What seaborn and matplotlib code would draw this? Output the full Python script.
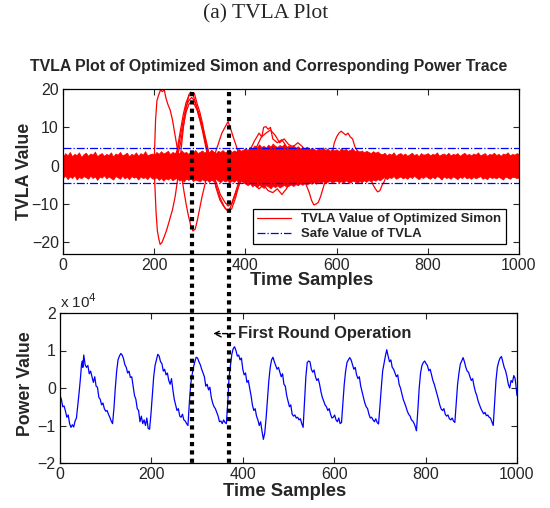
import matplotlib
matplotlib.use("Agg")
import matplotlib.pyplot as plt
import matplotlib.transforms as mtransforms
from matplotlib.lines import Line2D
import numpy as np
import pandas as pd
import seaborn as sns

# ---- data ----
# noise band of all TVLA traces, every 5 samples
band_x = list(range(0, 1001, 5))
band_hi = [2.4, 3.3, 2.7, 3.6, 2.5, 3.1, 2.8, 3.5, 2.3, 3.0,
           3.4, 2.6, 3.2, 2.9, 3.7, 2.5, 3.0, 3.3, 2.6, 3.1,
           2.8, 3.5, 2.4, 3.2, 2.9, 3.6, 2.7, 3.0, 3.4, 2.5,
           3.1, 2.8, 3.5, 2.6, 3.3, 2.9, 3.8, 2.7, 3.0, 3.2,
           2.9, 3.6, 3.1, 3.8, 3.2, 3.5, 3.9, 3.0, 3.6, 3.3,
           3.7, 3.2, 4.0, 3.4, 3.6, 3.1, 3.8, 3.5, 4.1, 3.3,
           3.6, 4.0, 3.4, 3.9, 3.5, 4.2, 3.7, 3.3, 3.9, 3.6,
           4.1, 3.5, 3.8, 4.3, 3.6, 4.0, 3.7, 4.4, 3.9, 4.2,
           4.6, 4.1, 5.0, 4.5, 5.3, 4.8, 5.6, 4.9, 5.2, 4.7,
           5.5, 5.0, 5.8, 5.2, 4.9, 5.4, 5.1, 5.7, 4.8, 5.3,
           5.0, 5.4, 4.7, 5.1, 4.5, 4.9, 4.6, 5.0, 4.3, 4.7,
           4.4, 4.0, 4.6, 4.2, 4.8, 4.1, 4.5, 3.9, 4.4, 4.0,
           4.3, 3.8, 4.6, 4.1, 4.4, 3.9, 4.2, 4.5, 3.8, 4.1,
           3.7, 4.0, 3.5, 3.9, 3.6, 3.3, 3.8, 3.4, 3.7, 3.2,
           3.0, 3.4, 2.7, 3.2, 2.9, 3.5, 2.6, 3.1, 3.3, 2.8,
           3.2, 2.6, 3.0, 3.4, 2.8, 3.1, 2.5, 3.3, 2.9, 3.0,
           3.3, 2.7, 3.1, 2.9, 3.5, 2.6, 3.0, 3.2, 2.8, 3.4,
           2.7, 3.1, 2.9, 3.3, 2.6, 3.0, 3.4, 2.8, 3.1, 2.7,
           3.2, 2.9, 3.5, 2.7, 3.0, 3.3, 2.6, 3.1, 2.9, 3.4,
           2.8, 3.1, 2.6, 3.2, 3.0, 3.5, 2.7, 3.1, 2.9, 3.3,
           3.0]
band_lo = [-3.1, -2.6, -3.5, -2.8, -3.2, -2.5, -3.6, -2.9, -3.3, -2.7,
           -3.0, -3.4, -2.6, -3.2, -2.8, -3.7, -2.9, -3.1, -2.5, -3.3,
           -2.8, -3.2, -3.6, -2.7, -3.0, -3.4, -2.6, -3.3, -2.9, -3.5,
           -2.7, -3.1, -2.9, -3.6, -2.8, -3.2, -3.0, -3.5, -2.7, -3.3,
           -3.4, -3.0, -3.7, -3.2, -3.9, -3.3, -3.6, -3.1, -3.8, -3.4,
           -3.2, -3.9, -3.5, -4.1, -3.4, -3.7, -3.3, -4.0, -3.6, -3.8,
           -4.1, -3.5, -3.9, -3.6, -4.2, -3.7, -4.0, -3.4, -3.9, -4.3,
           -3.7, -4.1, -3.8, -4.4, -3.9, -4.2, -3.6, -4.5, -4.0, -4.3,
           -4.7, -5.1, -4.6, -5.4, -4.9, -5.6, -5.0, -5.3, -5.8, -5.1,
           -5.4, -5.9, -5.2, -5.6, -5.1, -5.7, -5.3, -5.0, -5.5, -5.2,
           -4.9, -5.3, -4.8, -5.1, -4.6, -5.0, -4.5, -4.9, -4.4, -4.7,
           -4.3, -4.7, -4.1, -4.5, -4.0, -4.6, -4.2, -3.9, -4.4, -4.1,
           -3.9, -4.3, -4.0, -4.5, -3.8, -4.2, -4.4, -3.9, -4.1, -4.6,
           -4.0, -4.3, -3.8, -4.2, -3.7, -4.1, -3.6, -3.9, -3.5, -3.8,
           -3.3, -2.9, -3.5, -3.0, -3.2, -2.7, -3.4, -3.1, -2.8, -3.3,
           -3.0, -3.4, -2.8, -3.2, -2.6, -3.1, -3.5, -2.9, -3.2, -2.7,
           -3.1, -3.4, -2.9, -3.3, -2.7, -3.0, -3.6, -2.8, -3.2, -3.0,
           -3.4, -2.8, -3.1, -3.5, -2.9, -3.2, -2.7, -3.3, -3.0, -3.4,
           -2.9, -3.3, -3.0, -2.7, -3.4, -3.1, -3.5, -2.8, -3.2, -3.0,
           -3.3, -2.9, -3.2, -3.6, -2.8, -3.1, -3.4, -2.9, -3.0, -3.2,
           -3.1]

# large excursions of individual TVLA traces
trace_a_x = [195, 200, 203, 206, 210, 214, 218, 222, 226, 230, 235, 240, 245, 250, 255,
             260, 265, 270, 275, 280, 285, 290, 295, 300, 305, 310, 315, 320, 325,
             330, 340, 348, 355, 362, 368, 373, 379, 385, 390, 396]
trace_a_y = [0, 1, 12, 17, 18.5, 19.8, 19.3, 19.8, 17.5, 16, 14.5, 12, 8.5, 5, 1.5,
             -2.5, -6.5, -10, -13, -15.5, -17, -16.5, -14, -11, -8, -5.5, -3, -1, 0,
             2, 5.5, 8.4, 10, 11.5, 9.5, 7.6, 5.5, 3.2, 1.5, 0]
trace_b_x = [195, 200, 204, 207, 210, 213, 217, 222, 228, 234, 240, 246, 252, 258, 264,
             270, 276, 280, 284, 288, 293, 298, 303, 308, 313, 318, 323, 328,
             335, 344, 352, 359, 363, 370, 377, 383, 388, 394, 400]
trace_b_y = [0, -1, -12, -17, -19, -20.5, -20, -18.5, -16.5, -14, -11.5, -8, -3, 3, 10,
             15, 18.5, 19.2, 18.8, 17.5, 15.4, 13, 11, 9.3, 7, 4.4, 1.5, 0,
             -5.5, -8.9, -10.5, -11.5, -12, -10, -7.8, -6, -4.4, -2.4, -1]
hump2_x = [240, 250, 258, 264, 270, 276, 282, 288, 294, 300, 306, 312, 318, 324]
hump2_y1 = [0, 3, 8, 12, 15.5, 17, 17.8, 17, 15, 13, 10, 6.5, 3, 0]
hump2_y2 = [0, 4, 9.5, 13.5, 16.5, 18.2, 18.5, 18.9, 16.2, 14, 11, 7, 3.5, 0]
hump2_y3 = [0, 2, 6, 10.5, 14, 16, 16.8, 16, 14.5, 12, 9, 5.5, 2, 0]
hump3_x = [325, 335, 345, 355, 362, 370, 378, 386, 395]
hump3_y1 = [-1, -4, -7.5, -9.5, -10.5, -9.8, -7, -4, -1]
hump3_y2 = [-1, -5, -8.5, -11, -11.8, -11.2, -8.5, -5, -1.5]
bunch_a_x = [400, 410, 420, 430, 436, 440, 445, 450, 455, 460, 470, 480, 490, 500, 510]
bunch_a_y = [2, 4, 6.5, 8.5, 7.5, 10, 10.2, 9.5, 10, 7, 6, 6.8, 5, 4, 2]
bunch_b_x = [405, 415, 425, 435, 445, 455, 465, 475, 485, 495, 505, 515, 525, 535, 545]
bunch_b_y = [1, 3, 5, 7.5, 8.5, 9.3, 8, 6, 7, 5.5, 5, 6, 5, 3, 1]
bunch_c_x = [400, 410, 420, 430, 440, 450, 460, 470, 480, 490, 500, 510]
bunch_c_y = [-2, -4, -5, -6, -5, -6.5, -7, -6, -7.5, -6, -4, -2]
hump5_x = [520, 530, 540, 545, 550, 555, 560, 565, 570, 575, 580]
hump5_y = [-2, -4, -7, -9, -10.2, -10, -9.5, -8, -6, -4, -2]
hump6_x = [580, 590, 595, 600, 605, 610, 615, 620, 625, 630, 635, 640, 645, 650, 655]
hump6_y = [1, 3, 6, 7.5, 8.5, 9, 8.5, 8, 8.5, 7.5, 7, 5, 4, 2, 1]
hump7_x = [665, 675, 680, 685, 690, 695, 700, 705, 710]
hump7_y = [-2, -3.5, -5, -6, -6.8, -6.5, -5, -4, -2]
safe_value = 4.5

# power trace (units of 1e4)
power_x = [0, 3, 6, 9, 12, 15, 18, 21, 24, 27, 30, 33, 36, 39, 42, 45, 47, 49, 50, 52,
           55, 58, 61, 64, 67, 70, 73, 76, 79, 82, 85, 88, 91, 94, 97, 100, 103, 106, 109, 112, 115,
           118, 121, 124, 127, 130, 133, 136, 139, 142, 145, 148, 151, 154, 157, 160, 163, 166,
           169, 172, 175, 178, 181, 184, 187, 190, 193, 196,
           199, 202, 205, 208, 211, 214, 217, 220, 223, 226, 229, 232, 235, 238, 241, 244, 247,
           250, 253, 256, 259, 262, 265, 268, 271, 274, 277, 280,
           283, 286, 289, 292, 295, 298, 301, 304, 307, 310, 313, 316, 319, 322, 325, 328, 331,
           334, 337, 340, 343, 346, 349, 352, 355, 358, 361, 364,
           367, 370, 373, 376, 379, 382, 385, 388, 391, 394, 397, 400, 403, 406, 409, 412, 415,
           418, 421, 424, 427, 430, 433, 436, 439, 442, 445, 448,
           451, 454, 457, 460, 463, 466, 469, 472, 475, 478, 481, 484, 487, 490, 493, 496, 499,
           502, 505, 508, 511, 514, 517, 520, 523, 526, 529, 532,
           535, 538, 541, 544, 547, 550, 553, 556, 559, 562, 565, 568, 571, 574, 577, 580, 583,
           586, 589, 592, 595, 598, 601, 604, 607, 610, 613, 616,
           619, 622, 625, 628, 631, 634, 637, 640, 643, 646, 649, 652, 655, 658, 661, 664, 667,
           670, 673, 676, 679, 682, 685, 688, 691, 694, 697,
           700, 703, 706, 709, 712, 715, 718, 721, 724, 727, 730, 733, 736, 739, 742, 745, 748,
           751, 754, 757, 760, 763, 766, 769, 772, 775, 778, 780,
           783, 786, 789, 792, 795, 798, 801, 804, 807, 810, 813, 816, 819, 822, 825, 828, 831,
           834, 837, 840, 843, 846, 849, 852, 855, 858, 861, 864,
           867, 870, 873, 876, 879, 882, 885, 888, 891, 894, 897, 900, 903, 906, 909, 912, 915,
           918, 921, 924, 927, 930, 933, 936, 939, 942, 945, 948,
           951, 954, 957, 960, 963, 966, 969, 972, 975, 978, 981, 984, 987, 990, 993, 996, 999, 1000]
power_y = [-0.20, -0.30, -0.50, -0.48, -0.62, -0.78, -0.72, -0.95, -1.05, -0.98, -1.04, -0.88,
           -0.80, -0.45, -0.10, 0.30, 0.62, 0.72, 0.55, 0.88,
           0.62, 0.55, 0.60, 0.38, 0.45, 0.30, 0.15, 0.30, 0.05, 0.02, -0.25, -0.30, -0.45, -0.40,
           -0.55, -0.62, -0.60, -0.70, -0.78, -0.88, -0.95,
           -0.55, 0.00, 0.45, 0.75, 0.85, 0.92, 0.88, 0.78, 0.62, 0.55, 0.40, 0.45, 0.28, 0.30,
           0.05, -0.20, -0.30, -0.55, -0.60, -0.90, -0.75, -0.95, -0.85, -1.00, -0.80, -1.08, -1.10,
           -0.70, -0.20, 0.30, 0.60, 0.75, 0.90, 0.85, 0.70, 0.65, 0.45, 0.50, 0.35, 0.40, 0.20,
           0.10, 0.25, -0.05, -0.30, -0.45, -0.60, -0.55, -0.75, -0.78, -0.70, -0.85, -0.88,
           -0.95, -1.00,
           -0.40, 0.10, 0.35, 0.55, 0.70, 0.82, 0.80, 0.70, 0.62, 0.50, 0.40, 0.30, 0.05, 0.10,
           -0.05, 0.02, -0.25, -0.40, -0.50, -0.55, -0.65, -0.75, -0.90, -0.88, -0.95, -0.85,
           -0.92, -0.95,
           -0.40, 0.30, 0.60, 0.90, 1.05, 1.10, 1.00, 0.85, 0.88, 0.75, 0.80, 0.50, 0.35, 0.40,
           0.15, 0.20, 0.00, -0.20, -0.45, -0.60, -0.55, -0.75, -0.85, -1.00, -0.90, -1.15,
           -1.37, -1.20,
           -0.80, -0.30, 0.20, 0.55, 0.75, 0.82, 0.70, 0.60, 0.50, 0.55, 0.42, 0.30, 0.38, 0.10,
           0.05, -0.20, -0.35, -0.50, -0.45, -0.70, -0.75, -0.72, -0.80, -0.78, -0.85, -0.82,
           -0.95, -1.05,
           -0.40, 0.30, 0.68, 0.72, 0.70, 0.50, 0.42, 0.48, 0.30, 0.20, 0.25, 0.10, -0.10, -0.25,
           -0.35, -0.45, -0.50, -0.60, -0.55, -0.70, -0.80, -0.78, -0.72, -0.85, -0.90, -0.80,
           -0.95, -0.92,
           -0.40, 0.10, 0.45, 0.68, 0.75, 0.81, 0.75, 0.62, 0.50, 0.55, 0.35, 0.25, 0.30, 0.05,
           -0.10, -0.25, -0.40, -0.50, -0.55, -0.70, -0.80, -0.78, -0.85, -0.90, -0.82, -0.92, -0.96,
           -0.50, 0.00, 0.45, 0.65, 0.85, 1.02, 0.85, 0.70, 0.75, 0.55, 0.50, 0.40, 0.30, 0.35,
           0.10, 0.00, -0.15, -0.30, -0.40, -0.50, -0.62, -0.70, -0.75, -0.85, -0.88, -0.95,
           -1.05, -1.14,
           -0.60, 0.00, 0.40, 0.60, 0.68, 0.72, 0.65, 0.60, 0.46, 0.50, 0.35, 0.20, 0.10, -0.03,
           -0.15, -0.30, -0.45, -0.56, -0.60, -0.55, -0.70, -0.75, -0.72, -0.82, -0.85, -0.80,
           -0.88, -0.92,
           -0.40, 0.10, 0.40, 0.64, 0.72, 0.81, 0.70, 0.55, 0.45, 0.42, 0.30, 0.20, 0.25, 0.05,
           -0.10, -0.20, -0.35, -0.45, -0.55, -0.62, -0.69, -0.65, -0.74, -0.72, -0.78, -0.80,
           -0.90, -1.00,
           -0.40, 0.20, 0.55, 0.70, 0.80, 0.84, 0.70, 0.55, 0.46, 0.30, 0.10, 0.00, 0.20, 0.15,
           0.33, 0.25, -0.10, -0.20]

round_start = 283
round_end = 365

# ---- style ----
sns.set_style("ticks")
plt.rcParams["font.family"] = ["Liberation Sans", "DejaVu Sans"]
plt.rcParams["axes.linewidth"] = 0.9

red = "#ff0000"
blue = "#0000ff"

fig = plt.figure(figsize=(5.5, 5.08), dpi=100)
ax1 = fig.add_axes([63 / 550, 1 - 254 / 508, 456 / 550, 165 / 508])
ax2 = fig.add_axes([60 / 550, 1 - 463 / 508, 457 / 550, 150 / 508])

# ---- top: TVLA ----
ax1.fill_between(band_x, band_lo, band_hi, color=red, lw=0.5, edgecolor=red)
sns.lineplot(x=trace_a_x, y=trace_a_y, ax=ax1, color=red, lw=0.9, sort=False,
             estimator=None, label="TVLA Value of Optimized Simon")
sns.lineplot(x=trace_b_x, y=trace_b_y, ax=ax1, color=red, lw=0.9, sort=False, estimator=None)
for ys in [hump2_y1, hump2_y2, hump2_y3]:
    sns.lineplot(x=hump2_x, y=ys, ax=ax1, color=red, lw=0.9, sort=False, estimator=None)
for ys in [hump3_y1, hump3_y2]:
    sns.lineplot(x=hump3_x, y=ys, ax=ax1, color=red, lw=0.9, sort=False, estimator=None)
for xs, ys in [(bunch_a_x, bunch_a_y), (bunch_b_x, bunch_b_y), (bunch_c_x, bunch_c_y),
               (hump5_x, hump5_y), (hump6_x, hump6_y), (hump7_x, hump7_y)]:
    sns.lineplot(x=xs, y=ys, ax=ax1, color=red, lw=0.9, sort=False, estimator=None)

ax1.axhline(safe_value, color=blue, lw=0.9, ls="-.", label="Safe Value of TVLA")
ax1.axhline(-safe_value, color=blue, lw=0.9, ls="-.")

ax1.set_xlim(0, 1000)
ax1.set_ylim(-23, 20)
ax1.set_yticks([-20, -10, 0, 10, 20])
ax1.set_xticks(range(0, 1001, 200))
ax1.set_xlabel("Time Samples", fontsize=13.2, fontweight="bold", labelpad=0)
ax1.xaxis.set_label_coords(0.546, -0.11)
ax1.set_ylabel("TVLA Value", fontsize=12.8, fontweight="bold")
ax1.yaxis.set_label_coords(-0.065, 0.5)
leg = ax1.legend(loc="lower right", fontsize=9.5, frameon=True, fancybox=False,
                 edgecolor="black", framealpha=1, borderpad=0.3, handlelength=2.6,
                 labelspacing=0.2, bbox_to_anchor=(0.985, 0.02))
for t in leg.get_texts():
    t.set_fontweight("bold")
leg.get_frame().set_linewidth(0.9)

# ---- bottom: power trace ----
sns.lineplot(x=power_x, y=power_y, ax=ax2, color=blue, lw=0.9, sort=False, estimator=None)
ax2.set_xlim(0, 1000)
ax2.set_ylim(-2, 2)
ax2.set_yticks([-2, -1, 0, 1, 2])
ax2.set_xticks(range(0, 1001, 200))
ax2.set_xlabel("Time Samples", fontsize=13.2, fontweight="bold")
ax2.xaxis.set_label_coords(0.492, -0.135)
ax2.set_ylabel("Power Value", fontsize=12.8, fontweight="bold")
ax2.yaxis.set_label_coords(-0.057, 0.53)
ax2.text(0.0, 1.01, r"x 10$^{4}$", transform=ax2.transAxes, fontsize=11, va="bottom", ha="left")
ax2.annotate("First Round Operation", xy=(335, 1.45), xytext=(390, 1.45),
             fontsize=11.8, fontweight="bold", va="center", ha="left",
             arrowprops=dict(arrowstyle="->", color="black", lw=1, ls="--",
                             shrinkA=0, shrinkB=0))

for ax in [ax1, ax2]:
    ax.tick_params(direction="in", top=True, right=True, labelsize=11.5, length=4,
                   width=0.8, pad=3)
    for s in ax.spines.values():
        s.set_color("black")

# dotted markers of the first round, drawn across both axes
trans = mtransforms.blended_transform_factory(ax1.transData, fig.transFigure)
for xv in [round_start, round_end]:
    fig.add_artist(Line2D([xv, xv], [1 - 92 / 508, 1 - 465 / 508], transform=trans,
                          color="black", lw=3, ls=(0, (1, 1)), solid_capstyle="butt"))

fig.text(268.5 / 550, 1 - 66 / 508, "TVLA Plot of Optimized Simon and Corresponding Power Trace",
         ha="center", va="center", fontsize=11.4, fontweight="bold")
fig.text(265.5 / 550, 1 - 14 / 508, "(a) TVLA Plot", ha="center", va="center", fontsize=15.5,
         family=["Liberation Serif", "DejaVu Serif"])

fig.savefig("out.png", dpi=100)
